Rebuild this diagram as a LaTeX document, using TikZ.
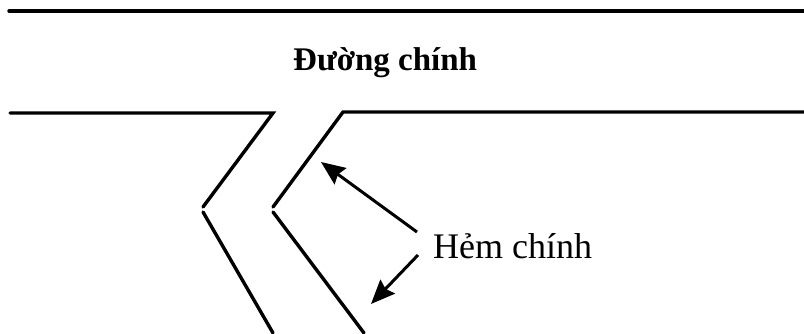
\documentclass[tikz,border=0pt]{standalone}
\usepackage{fontspec}
\setmainfont{Liberation Serif}
\usetikzlibrary{arrows.meta}
\begin{document}
\begin{tikzpicture}[x=1pt,y=-1pt,
  road/.style={line width=3.4pt,line cap=round},
  pointer/.style={line width=3pt,-{Stealth[length=24pt,width=20pt,inset=3pt]}},
  lbl/.style={inner sep=0pt,anchor=base west}]
\useasboundingbox (0,0) rectangle (804,333);
% road edges
\coordinate (t1) at (9,11);
\coordinate (t2) at (804,11);
\coordinate (l1) at (10,113);
\coordinate (l2) at (273,113);
\coordinate (l3) at (203,207);
\coordinate (l4) at (203,212);
\coordinate (l5) at (273,333);
\coordinate (r1) at (804,112);
\coordinate (r2) at (343,112);
\coordinate (r3) at (273,207);
\coordinate (r4) at (273,212);
\coordinate (r5) at (364,333);
\draw[road] (t1) -- (t2);
\draw[road] (l1) -- (l2) -- (l3);
\draw[road] (l4) -- (l5);
\draw[road] (r1) -- (r2) -- (r3);
\draw[road] (r4) -- (r5);
% labels
\node[lbl,font=\fontsize{33}{36}\selectfont\bfseries] (main) at (293,70) {Đường chính};
\node[lbl,font=\fontsize{36}{40}\selectfont] (hem) at (433,258) {Hẻm chính};
% arrows
\coordinate (a1s) at (417,232);
\coordinate (a1e) at (321,162);
\coordinate (a2s) at (418,255);
\coordinate (a2e) at (371,304);
\draw[pointer] (a1s) -- (a1e);
\draw[pointer] (a2s) -- (a2e);
\end{tikzpicture}
\end{document}
